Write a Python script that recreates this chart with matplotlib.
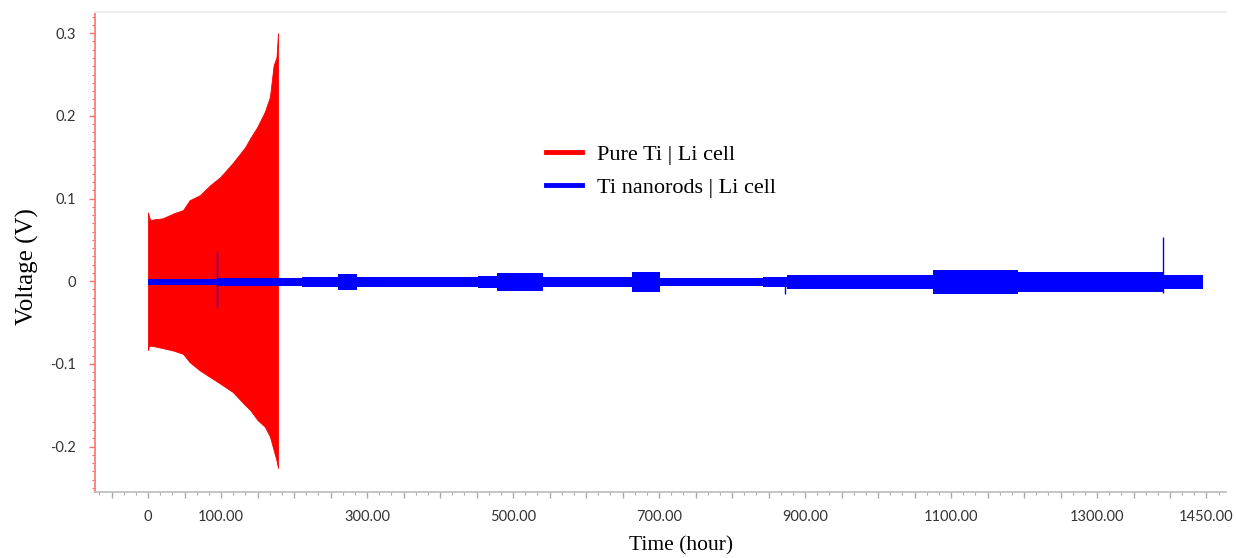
"""
Galvanostatic cycling of symmetric Li cells: voltage vs time.
Pure Ti | Li (red) vs Ti nanorods | Li (blue).
"""

import matplotlib
matplotlib.use("Agg")
import matplotlib.pyplot as plt
from matplotlib.ticker import MultipleLocator, FuncFormatter

# ── Data ──────────────────────────────────────────────────────────────────────

# Pure Ti | Li cell: envelope of the oscillating voltage (hours, V)
red_t     = [0, 1, 3, 10, 20, 35, 48, 57, 71, 85, 99, 116, 133, 140, 150, 160, 167, 172, 176, 178]
red_upper = [0.083, 0.079, 0.074, 0.075, 0.076, 0.082, 0.086, 0.098, 0.104, 0.116, 0.126,
             0.143, 0.162, 0.173, 0.187, 0.205, 0.223, 0.261, 0.271, 0.300]
red_lower = [-0.083, -0.079, -0.078, -0.079, -0.081, -0.084, -0.088, -0.098, -0.108, -0.116,
             -0.124, -0.134, -0.150, -0.156, -0.168, -0.176, -0.188, -0.204, -0.217, -0.226]

# Ti nanorods | Li cell: band half-width per time segment (hours, V)
blue_t    = [0, 94.5, 211, 260, 286, 430, 452, 478, 541, 574, 663, 701, 842, 875, 1075, 1192, 1390, 1445]
blue_half = [0.0034, 0.0044, 0.0057, 0.0091, 0.0055, 0.0064, 0.0077, 0.0111, 0.0055, 0.0057,
             0.0115, 0.0051, 0.0060, 0.0082, 0.0147, 0.0117, 0.0087, 0.0087]
blue_center = -0.001

# short spikes on the blue trace (hours, low V, high V)
spike_t    = [95, 873, 1390]
spike_low  = [-0.031, -0.015, -0.014]
spike_high = [0.035, 0.0, 0.053]

x_labels = [0, 100, 300, 500, 700, 900, 1100, 1300, 1450]
y_ticks  = [-0.2, -0.1, 0, 0.1, 0.2, 0.3]

RED  = "#ff0000"
BLUE = "#0000ff"

# ── Plot ──────────────────────────────────────────────────────────────────────

fig = plt.figure(figsize=(12.36, 5.58), dpi=100)
ax = fig.add_axes([0.0769, 0.1183, 0.915, 0.8593])

ax.fill_between(red_t, red_lower, red_upper, color=RED, linewidth=0.6, edgecolor=RED)

lo = [blue_center - h for h in blue_half]
hi = [blue_center + h for h in blue_half]
ax.fill_between(blue_t, lo, hi, step="post", color=BLUE, linewidth=0)
ax.vlines(spike_t, spike_low, spike_high, color=BLUE, linewidth=1.0)

# legend proxies
ax.plot([], [], color=RED, linewidth=3.5, label="Pure Ti | Li cell")
ax.plot([], [], color=BLUE, linewidth=3.5, label="Ti nanorods | Li cell")
ax.legend(loc="upper left", bbox_to_anchor=(0.385, 0.757), frameon=False,
          prop={"family": "Liberation Serif", "size": 16},
          handlelength=1.6, handletextpad=0.7, labelspacing=0.55,
          borderpad=0.2)

ax.set_xlim(-72.6, 1476.7)
ax.set_ylim(-0.255, 0.325)

# spines
ax.spines["right"].set_visible(False)
ax.spines["top"].set_color("#eeeeee")
ax.spines["top"].set_linewidth(1.5)
ax.spines["left"].set_color("#ff7070")
ax.spines["left"].set_linewidth(1.2)
ax.spines["bottom"].set_color("#bbbbbb")
ax.spines["bottom"].set_linewidth(1.2)

# x ticks: major every 50 h, labels only at chosen values
ax.xaxis.set_major_locator(MultipleLocator(50))
ax.xaxis.set_minor_locator(MultipleLocator(50 / 3))
ax.xaxis.set_major_formatter(FuncFormatter(
    lambda v, _: ("0" if abs(v) < 1e-6 else f"{v:.2f}")
    if any(abs(v - lab) < 1e-6 for lab in x_labels) else ""))
ax.tick_params(axis="x", which="major", direction="out", length=4, width=1,
               color="#aaaaaa", pad=9, labelsize=10.5, labelcolor="#333333")
ax.tick_params(axis="x", which="minor", direction="out", length=2, width=0.8,
               color="#aaaaaa")

ax.set_yticks(y_ticks)
ax.set_yticklabels(["-0.2", "-0.1", "0", "0.1", "0.2", "0.3"])
ax.yaxis.set_minor_locator(MultipleLocator(0.01))
ax.tick_params(axis="y", which="major", direction="out", length=4, width=1,
               color="#ff7070", pad=10, labelsize=10.5, labelcolor="#333333")
ax.tick_params(axis="y", which="minor", direction="out", length=2.5, width=0.8,
               color="#ff7070")
for lab in ax.get_xticklabels() + ax.get_yticklabels():
    lab.set_family("Lato")

ax.set_xlabel("Time (hour)", family="Liberation Serif", fontsize=15.5)
ax.xaxis.set_label_coords(0.518, -0.092)
ax.set_ylabel("Voltage (V)", family="Liberation Serif", fontsize=18)
ax.yaxis.set_label_coords(-0.05, 0.47)

fig.savefig("out.png", dpi=100)
